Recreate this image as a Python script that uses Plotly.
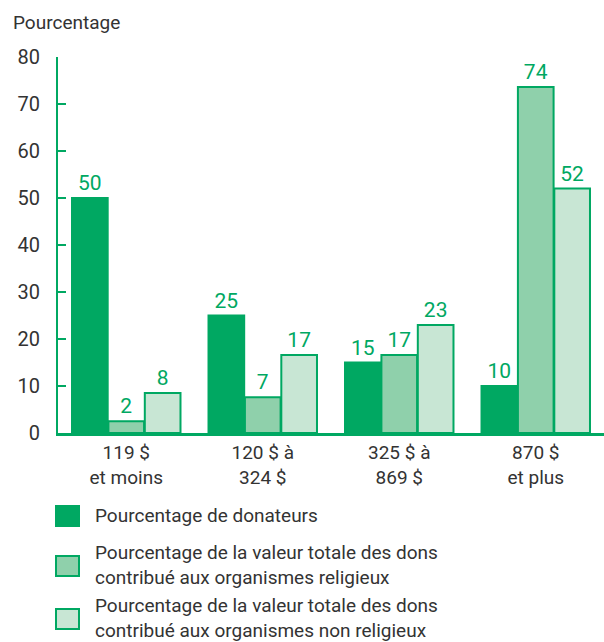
import plotly.graph_objects as go

categories = ["119 $<br>et moins", "120 $ à<br>324 $", "325 $ à<br>869 $", "870 $<br>et plus"]
donateurs = [50, 25, 15, 10]
religieux = [2.5, 7.6, 16.6, 73.6]
non_religieux = [8.5, 16.6, 23, 52]
donateurs_lbl = ["50", "25", "15", "10"]
religieux_lbl = ["2", "7", "17", "74"]
non_religieux_lbl = ["8", "17", "23", "52"]
series_names = [
    "Pourcentage de donateurs",
    "Pourcentage de la valeur totale des dons<br>contribué aux organismes religieux",
    "Pourcentage de la valeur totale des dons<br>contribué aux organismes non religieux",
]

GREEN = "#00A862"
MID = "#8FD0AB"
LIGHT = "#C8E6D4"
TXT = "#333333"
FONT = "Roboto, Arial, sans-serif"

fig = go.Figure()
for vals, lbls, col, name in [
    (donateurs, donateurs_lbl, GREEN, series_names[0]),
    (religieux, religieux_lbl, MID, series_names[1]),
    (non_religieux, non_religieux_lbl, LIGHT, series_names[2]),
]:
    fig.add_trace(go.Bar(
        x=categories, y=vals, name=name, text=lbls, textposition="outside",
        textfont=dict(color=GREEN, size=21, family=FONT),
        marker=dict(color=col, line=dict(color=GREEN, width=2)),
        cliponaxis=False, showlegend=False,
    ))

# plot area pixel geometry helpers
T, B, L, R = 57, 433, 58, 604
def py(y):
    return (B - y) / (B - T)
def px(x):
    return (x - L) / (R - L)

shapes = []
annotations = []
legend_rows = [
    (516, GREEN, series_names[0]),
    (566, MID, series_names[1]),
    (619, LIGHT, series_names[2]),
]
for yc, col, name in legend_rows:
    shapes.append(dict(type="rect", xref="paper", yref="paper",
                       x0=px(56), x1=px(79), y0=py(yc + 10), y1=py(yc - 10),
                       fillcolor=col, line=dict(color=GREEN, width=2)))
    annotations.append(dict(xref="paper", yref="paper", x=px(93), y=py(yc - 1),
                            text=name, showarrow=False, xanchor="left", yanchor="middle",
                            align="left", font=dict(size=19, color=TXT, family=FONT)))

annotations.append(dict(xref="paper", yref="paper", x=px(11), y=py(23), text="Pourcentage",
                        showarrow=False, xanchor="left", yanchor="middle",
                        font=dict(size=19, color=TXT, family=FONT)))

fig.update_layout(
    width=604, height=642,
    margin=dict(l=L, r=604 - R, t=T, b=642 - B, pad=0),
    paper_bgcolor="white", plot_bgcolor="white",
    barmode="group", bargap=0.2, bargroupgap=0.02,
    font=dict(family=FONT, color=TXT),
    shapes=shapes, annotations=annotations,
)
fig.update_yaxes(range=[0, 80], dtick=10, showgrid=False, zeroline=False,
                 showline=True, linecolor=GREEN, linewidth=2,
                 ticks="inside", ticklen=8, tickwidth=2, tickcolor=GREEN,
                 tickfont=dict(size=20, color=TXT, family=FONT), ticklabelstandoff=12)
fig.update_xaxes(showgrid=False, showline=True, linecolor=GREEN, linewidth=3,
                 ticks="", tickfont=dict(size=19, color=TXT, family=FONT))

fig.write_html("out.html", config={"displayModeBar": False},
               post_script="document.body.style.margin='0';")
